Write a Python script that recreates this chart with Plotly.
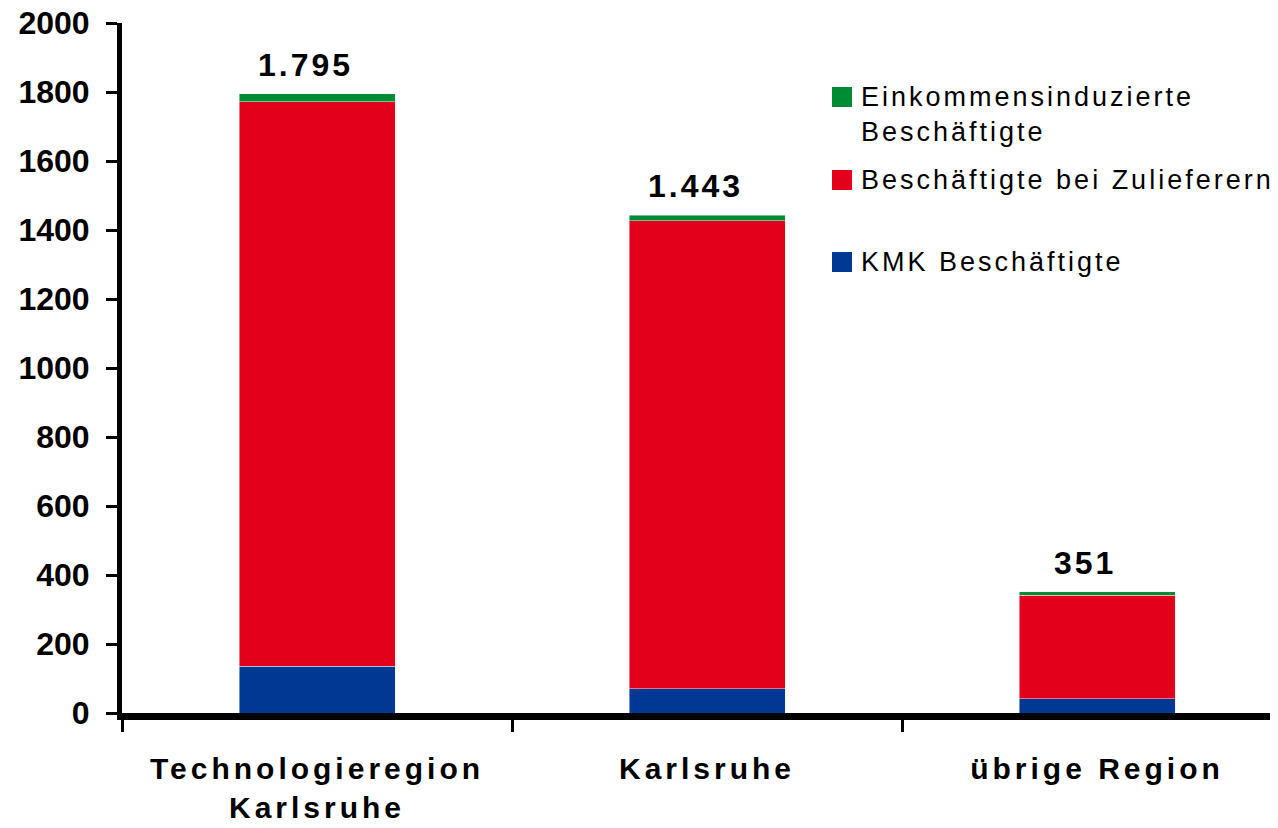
import plotly.graph_objects as go

regionen = ["Technologieregion<br>Karlsruhe", "Karlsruhe", "übrige Region"]
kmk = [135, 70, 42]
zulieferer = [1637, 1357, 300]
einkommen = [23, 16, 9]
gesamt = [1795, 1443, 351]

namen = ["Einkommensinduzierte<br>Beschäftigte", "Beschäftigte bei Zulieferern", "KMK Beschäftigte"]
farben = ["#008C32", "#E2001A", "#003893"]

W, H = 1278, 828
# die Seite hat 8px body-Rand, deshalb etwas kleinere Raender
L, R, T, B = 114, 0, 15, 123
OFF = 8


def sperren(text, px_abstand):
    # Buchstaben etwas auseinanderziehen wie im Original
    return '<span style="letter-spacing:%gpx">%s</span>' % (px_abstand, text)


fig = go.Figure()
fig.add_bar(x=regionen, y=kmk, marker_color=farben[2], width=0.4, showlegend=False)
fig.add_bar(x=regionen, y=zulieferer, marker_color=farben[1], width=0.4, showlegend=False)
fig.add_bar(x=regionen, y=einkommen, marker_color=farben[0], width=0.4, showlegend=False)

# Summen ueber den Balken
for reg, g in zip(regionen, gesamt):
    txt = f"{g:,}".replace(",", ".")
    fig.add_annotation(x=reg, y=g, text="<b>" + sperren(txt, 3) + "</b>",
                       showarrow=False, yanchor="bottom", yshift=9, xshift=-12,
                       font=dict(size=32, color="black"))


# Legende von Hand (Pixel im Fenster -> paper)
def px(xp):
    return (xp - OFF - L) / (W - L - R)


def py(yp):
    return 1 - (yp - OFF - T) / (H - T - B)


leg_y = [97, 180, 262]
for name, farbe, yy in zip(namen, farben, leg_y):
    fig.add_shape(type="rect", xref="paper", yref="paper",
                  x0=px(832), x1=px(852), y0=py(yy + 10), y1=py(yy - 10),
                  fillcolor=farbe, line_width=0)
    zeilen = [sperren(z, 3) for z in name.split("<br>")]
    ytxt = yy + 18 if len(zeilen) > 1 else yy
    fig.add_annotation(xref="paper", yref="paper", x=px(859), y=py(ytxt),
                       text="<br>".join(zeilen), showarrow=False,
                       xanchor="left", yanchor="middle",
                       align="left", font=dict(size=27, color="black"))

fig.update_layout(
    barmode="stack",
    width=W, height=H,
    margin=dict(l=L, r=R, t=T, b=B),
    plot_bgcolor="white", paper_bgcolor="white",
    font=dict(family="Liberation Sans, Arial, sans-serif", color="black"),
)
fig.update_yaxes(range=[0, 2000], dtick=200, showgrid=False, zeroline=False,
                 showline=True, linecolor="black", linewidth=5, automargin=False,
                 ticks="outside", ticklen=11, tickwidth=3, tickcolor="black",
                 tickfont=dict(size=32), tickprefix="<b>", ticksuffix="</b>",
                 ticklabelstandoff=10, ticklabeloverflow="allow")
fig.update_xaxes(range=[-0.5, -0.5 + (W - L - R) / 390], showgrid=False, showline=True,
                 linecolor="black", linewidth=7, automargin=False,
                 tickmode="array", tickvals=regionen,
                 ticktext=["<b>" + "<br>".join(sperren(z, 4) for z in r.split("<br>")) + "</b>"
                           for r in regionen],
                 ticks="outside", tickson="boundaries", ticklen=12, tickwidth=3,
                 tickcolor="black", tickfont=dict(size=30),
                 ticklabelstandoff=23, ticklabeloverflow="allow")

fig.write_html("out.html")
